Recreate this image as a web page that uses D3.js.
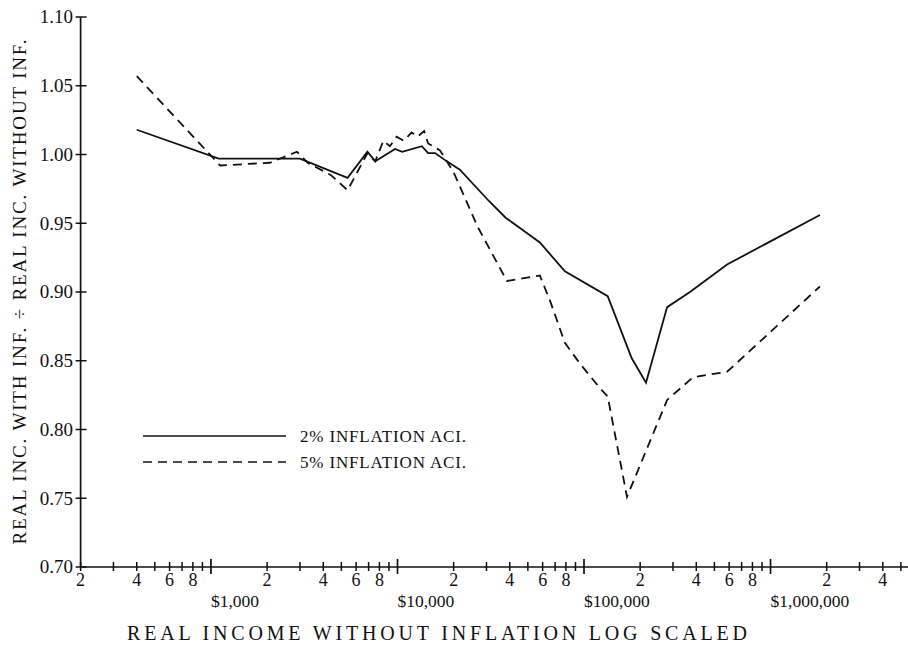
<!DOCTYPE html>
<html>
<head>
<meta charset="utf-8">
<script src="https://cdn.jsdelivr.net/npm/d3@7"></script>
<style>
  body { margin: 0; background: #fff; }
  svg { font-family: "Liberation Serif", "DejaVu Serif", serif; }
</style>
</head>
<body>
<div id="chart"></div>
<script>
// income (real, without inflation) vs ratio of real income with/without inflation
const income2 = [400, 1100, 3000, 5400, 6900, 7600, 9700, 10600, 13500, 14600, 15900, 18400, 21600, 31000, 38000, 58000, 79000, 134000, 180000, 215000, 279000, 370000, 585000, 1840000];
const ratio2  = [1.018, 0.997, 0.997, 0.983, 1.002, 0.995, 1.004, 1.002, 1.006, 1.001, 1.001, 0.995, 0.989, 0.966, 0.954, 0.936, 0.915, 0.897, 0.852, 0.834, 0.889, 0.900, 0.920, 0.956];

const income5 = [400, 1120, 2070, 2890, 3300, 4400, 5400, 6900, 7600, 8400, 9100, 9900, 10800, 11900, 12800, 13900, 14600, 16900, 20000, 27000, 38600, 58000, 66000, 79000, 95000, 122000, 134000, 170000, 279000, 384000, 585000, 1840000];
const ratio5  = [1.057, 0.992, 0.994, 1.002, 0.994, 0.985, 0.974, 1.001, 0.995, 1.010, 1.006, 1.013, 1.010, 1.016, 1.013, 1.017, 1.008, 1.003, 0.987, 0.947, 0.908, 0.912, 0.893, 0.863, 0.848, 0.830, 0.824, 0.751, 0.8215, 0.838, 0.842, 0.904];

const yTicks = [0.70, 0.75, 0.80, 0.85, 0.90, 0.95, 1.00, 1.05, 1.10];
const decades = [1000, 10000, 100000, 1000000];
const decadeLabels = ["$1,000", "$10,000", "$100,000", "$1,000,000"];
const multipliers = [2, 3, 4, 5, 6, 7, 8, 9];
const labeledMultipliers = [2, 4, 6, 8];
const legendItems = ["2% INFLATION ACI.", "5% INFLATION ACI."];

const width = 908, height = 648;

const svg = d3.select("#chart").append("svg")
    .attr("width", width)
    .attr("height", height);

const x = d3.scaleLog().domain([200, 5000000]).range([80.6, 900.9]);
const y = d3.scaleLinear().domain([0.70, 1.10]).range([567, 17]);

// leading digit of a tick value
const lead = d => Math.round(d / Math.pow(10, Math.floor(Math.log10(d) + 1e-9)));

// minor ticks per decade
const minorTicks = [];
[100, 1000, 10000, 100000, 1000000].forEach(d => {
    multipliers.forEach(m => {
        const v = m * d;
        if (v >= 200 && v <= 5000000) minorTicks.push(v);
    });
});

// axes lines
svg.append("line")
    .attr("x1", x(200)).attr("x2", 908)
    .attr("y1", y(0.70)).attr("y2", y(0.70))
    .attr("stroke", "#111").attr("stroke-width", 1.7);
svg.append("line")
    .attr("x1", x(200)).attr("x2", x(200))
    .attr("y1", y(1.10)).attr("y2", y(0.70))
    .attr("stroke", "#111").attr("stroke-width", 1.7);

// y ticks
const yAxis = svg.append("g");
yAxis.selectAll("line").data(yTicks).join("line")
    .attr("x1", x(200) - 5).attr("x2", x(200) + 6)
    .attr("y1", d => y(d)).attr("y2", d => y(d))
    .attr("stroke", "#111").attr("stroke-width", 1.5);
yAxis.selectAll("text").data(yTicks).join("text")
    .attr("x", 73)
    .attr("y", d => y(d))
    .attr("dy", "0.34em")
    .attr("text-anchor", "end")
    .attr("font-size", 19)
    .attr("fill", "#111")
    .text(d => d.toFixed(2));

// x ticks
const xAxis = svg.append("g");
xAxis.selectAll("line.minor").data(minorTicks).join("line")
    .attr("class", "minor")
    .attr("x1", d => x(d)).attr("x2", d => x(d))
    .attr("y1", y(0.70) - 5).attr("y2", y(0.70) + 4)
    .attr("stroke", "#111").attr("stroke-width", 1.5);
xAxis.selectAll("line.major").data(decades).join("line")
    .attr("class", "major")
    .attr("x1", d => x(d)).attr("x2", d => x(d))
    .attr("y1", y(0.70) - 8).attr("y2", y(0.70) + 7)
    .attr("stroke", "#111").attr("stroke-width", 1.7);
xAxis.selectAll("text.minor").data(minorTicks.filter(d => labeledMultipliers.includes(lead(d))))
    .join("text")
    .attr("class", "minor")
    .attr("x", d => x(d))
    .attr("y", 586)
    .attr("text-anchor", "middle")
    .attr("font-size", 18)
    .attr("fill", "#111")
    .text(d => lead(d));
xAxis.selectAll("text.major").data(decades).join("text")
    .attr("class", "major")
    .attr("x", d => x(d))
    .attr("y", 607)
    .attr("text-anchor", "start")
    .attr("font-size", 17.5)
    .attr("fill", "#111")
    .text((d, i) => decadeLabels[i]);

// axis titles
svg.append("text")
    .attr("x", 437).attr("y", 640)
    .attr("text-anchor", "middle")
    .attr("font-size", 20)
    .attr("textLength", 620)
    .attr("lengthAdjust", "spacing")
    .attr("fill", "#111")
    .text("REAL INCOME WITHOUT INFLATION LOG SCALED");
svg.append("text")
    .attr("transform", "translate(26,292) rotate(-90)")
    .attr("text-anchor", "middle")
    .attr("font-size", 19)
    .attr("textLength", 505)
    .attr("lengthAdjust", "spacing")
    .attr("fill", "#111")
    .text("REAL INC. WITH INF. ÷ REAL INC. WITHOUT INF.");

// series
const line = d3.line().x(d => x(d[0])).y(d => y(d[1]));
const series = [
    { pts: d3.zip(income2, ratio2), dash: null },
    { pts: d3.zip(income5, ratio5), dash: "9,6" }
];
svg.selectAll("path.series").data(series).join("path")
    .attr("class", "series")
    .attr("d", d => line(d.pts))
    .attr("fill", "none")
    .attr("stroke", "#111")
    .attr("stroke-width", 1.8)
    .attr("stroke-linejoin", "miter")
    .attr("stroke-dasharray", d => d.dash);

// legend
const legend = svg.append("g");
legendItems.forEach((label, i) => {
    const ly = 436 + i * 26;
    legend.append("line")
        .attr("x1", 143).attr("x2", 286)
        .attr("y1", ly).attr("y2", ly)
        .attr("stroke", "#111").attr("stroke-width", 1.7)
        .attr("stroke-dasharray", series[i].dash);
    legend.append("text")
        .attr("x", 300).attr("y", ly)
        .attr("dy", "0.36em")
        .attr("font-size", 17)
        .attr("textLength", 166)
        .attr("lengthAdjust", "spacing")
        .attr("fill", "#111")
        .text(label);
});
</script>
</body>
</html>
